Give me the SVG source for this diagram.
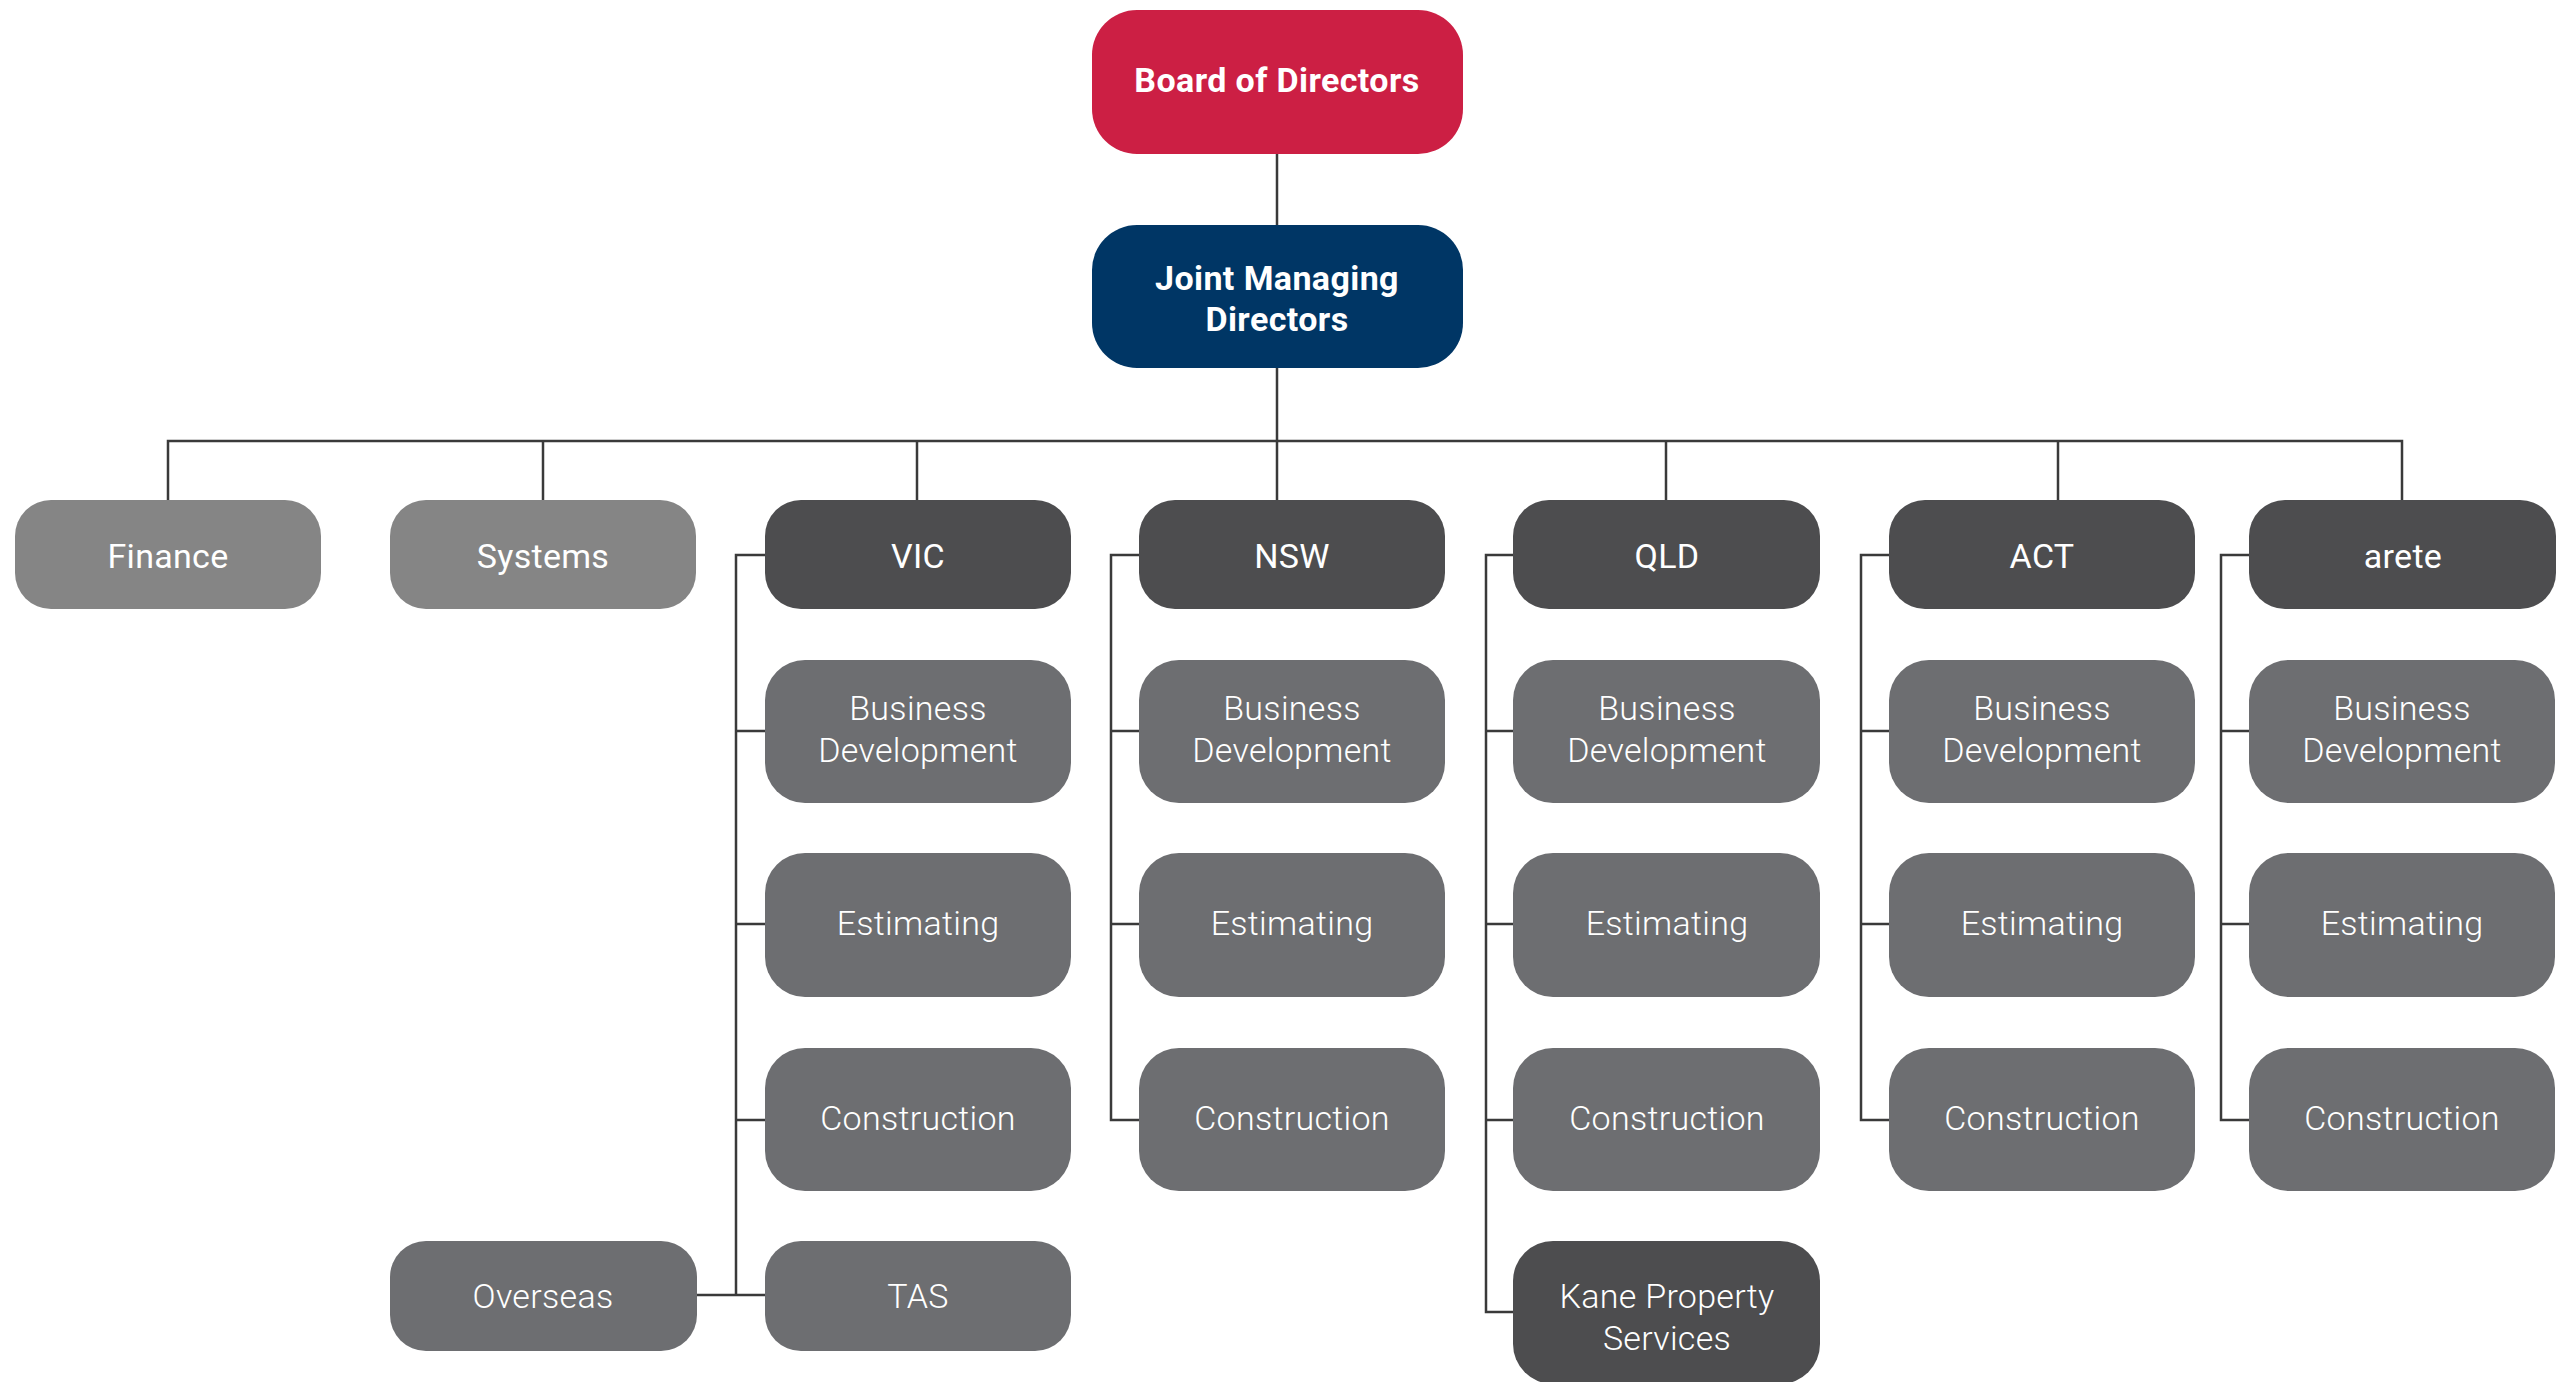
<svg xmlns="http://www.w3.org/2000/svg" width="2569" height="1382" viewBox="0 0 2569 1382">
<style>
  .ln{fill:none;stroke:#3a3a3a;stroke-width:2.5}
  .red{fill:#CC1F44}
  .navy{fill:#003665}
  .light{fill:#858585}
  .dark{fill:#4D4D4F}
  .mid{fill:#6D6E71}
  text{font-family:Roboto,"Liberation Sans",sans-serif;fill:#ffffff;text-anchor:middle;dominant-baseline:central}
  .b{font-size:34px;font-weight:700;letter-spacing:0.4px}
  .m{font-size:34px;font-weight:400;letter-spacing:0.3px}
  .r{font-size:34px;font-weight:300;letter-spacing:0.3px}
</style>
<rect width="2569" height="1382" fill="#ffffff"/>
<g id="connectors">
  <path class="ln" d="M1277,154 V500"/>
  <path class="ln" d="M168,500 V441 H2402 V500"/>
  <path class="ln" d="M543,441 V500"/>
  <path class="ln" d="M917,441 V500"/>
  <path class="ln" d="M1666,441 V500"/>
  <path class="ln" d="M2058,441 V500"/>
  <path class="ln" d="M765,555 H736 V1295"/>
  <path class="ln" d="M736,731 H765 M736,924 H765 M736,1120 H765"/>
  <path class="ln" d="M697,1295 H765"/>
  <path class="ln" d="M1139,555 H1111 V1120 H1139 M1111,731 H1139 M1111,924 H1139"/>
  <path class="ln" d="M1513,555 H1486 V1312 H1513 M1486,731 H1513 M1486,924 H1513 M1486,1120 H1513"/>
  <path class="ln" d="M1889,555 H1861 V1120 H1889 M1861,731 H1889 M1861,924 H1889"/>
  <path class="ln" d="M2249,555 H2221 V1120 H2249 M2221,731 H2249 M2221,924 H2249"/>
</g>
<g id="board"><rect class="red" x="1092" y="10" width="371" height="144" rx="45"/><text class="b" x="1277" y="80">Board of Directors</text></g>
<g id="jmd"><rect class="navy" x="1092" y="225" width="371" height="143" rx="45"/><text class="b" x="1277" y="278">Joint Managing</text><text class="b" x="1277" y="319">Directors</text></g>
<g id="finance"><rect class="light" x="15" y="500" width="306" height="109" rx="36"/><text class="m" x="168" y="556">Finance</text></g>
<g id="systems"><rect class="light" x="390" y="500" width="306" height="109" rx="36"/><text class="m" x="543" y="556">Systems</text></g>
<g id="vic"><rect class="dark" x="765" y="500" width="306" height="109" rx="36"/><text class="m" x="918" y="556">VIC</text></g>
<g id="nsw"><rect class="dark" x="1139" y="500" width="306" height="109" rx="36"/><text class="m" x="1292" y="556">NSW</text></g>
<g id="qld"><rect class="dark" x="1513" y="500" width="307" height="109" rx="36"/><text class="m" x="1667" y="556">QLD</text></g>
<g id="act"><rect class="dark" x="1889" y="500" width="306" height="109" rx="36"/><text class="m" x="2042" y="556">ACT</text></g>
<g id="arete"><rect class="dark" x="2249" y="500" width="307" height="109" rx="36"/><text class="m" x="2403" y="556">arete</text></g>

<g id="vic-bd"><rect class="mid" x="765" y="660" width="306" height="143" rx="40"/><text class="r" x="918" y="708">Business</text><text class="r" x="918" y="750">Development</text></g>
<g id="vic-est"><rect class="mid" x="765" y="853" width="306" height="144" rx="40"/><text class="r" x="918" y="923">Estimating</text></g>
<g id="vic-con"><rect class="mid" x="765" y="1048" width="306" height="143" rx="40"/><text class="r" x="918" y="1118">Construction</text></g>
<g id="tas"><rect class="mid" x="765" y="1241" width="306" height="110" rx="36"/><text class="r" x="918" y="1296">TAS</text></g>
<g id="overseas"><rect class="mid" x="390" y="1241" width="307" height="110" rx="36"/><text class="r" x="543" y="1296">Overseas</text></g>

<g id="nsw-bd"><rect class="mid" x="1139" y="660" width="306" height="143" rx="40"/><text class="r" x="1292" y="708">Business</text><text class="r" x="1292" y="750">Development</text></g>
<g id="nsw-est"><rect class="mid" x="1139" y="853" width="306" height="144" rx="40"/><text class="r" x="1292" y="923">Estimating</text></g>
<g id="nsw-con"><rect class="mid" x="1139" y="1048" width="306" height="143" rx="40"/><text class="r" x="1292" y="1118">Construction</text></g>

<g id="qld-bd"><rect class="mid" x="1513" y="660" width="307" height="143" rx="40"/><text class="r" x="1667" y="708">Business</text><text class="r" x="1667" y="750">Development</text></g>
<g id="qld-est"><rect class="mid" x="1513" y="853" width="307" height="144" rx="40"/><text class="r" x="1667" y="923">Estimating</text></g>
<g id="qld-con"><rect class="mid" x="1513" y="1048" width="307" height="143" rx="40"/><text class="r" x="1667" y="1118">Construction</text></g>
<g id="kane"><rect class="dark" x="1513" y="1241" width="307" height="143" rx="40"/><text class="r" x="1667" y="1296">Kane Property</text><text class="r" x="1667" y="1338">Services</text></g>

<g id="act-bd"><rect class="mid" x="1889" y="660" width="306" height="143" rx="40"/><text class="r" x="2042" y="708">Business</text><text class="r" x="2042" y="750">Development</text></g>
<g id="act-est"><rect class="mid" x="1889" y="853" width="306" height="144" rx="40"/><text class="r" x="2042" y="923">Estimating</text></g>
<g id="act-con"><rect class="mid" x="1889" y="1048" width="306" height="143" rx="40"/><text class="r" x="2042" y="1118">Construction</text></g>

<g id="arete-bd"><rect class="mid" x="2249" y="660" width="306" height="143" rx="40"/><text class="r" x="2402" y="708">Business</text><text class="r" x="2402" y="750">Development</text></g>
<g id="arete-est"><rect class="mid" x="2249" y="853" width="306" height="144" rx="40"/><text class="r" x="2402" y="923">Estimating</text></g>
<g id="arete-con"><rect class="mid" x="2249" y="1048" width="306" height="143" rx="40"/><text class="r" x="2402" y="1118">Construction</text></g>
</svg>
